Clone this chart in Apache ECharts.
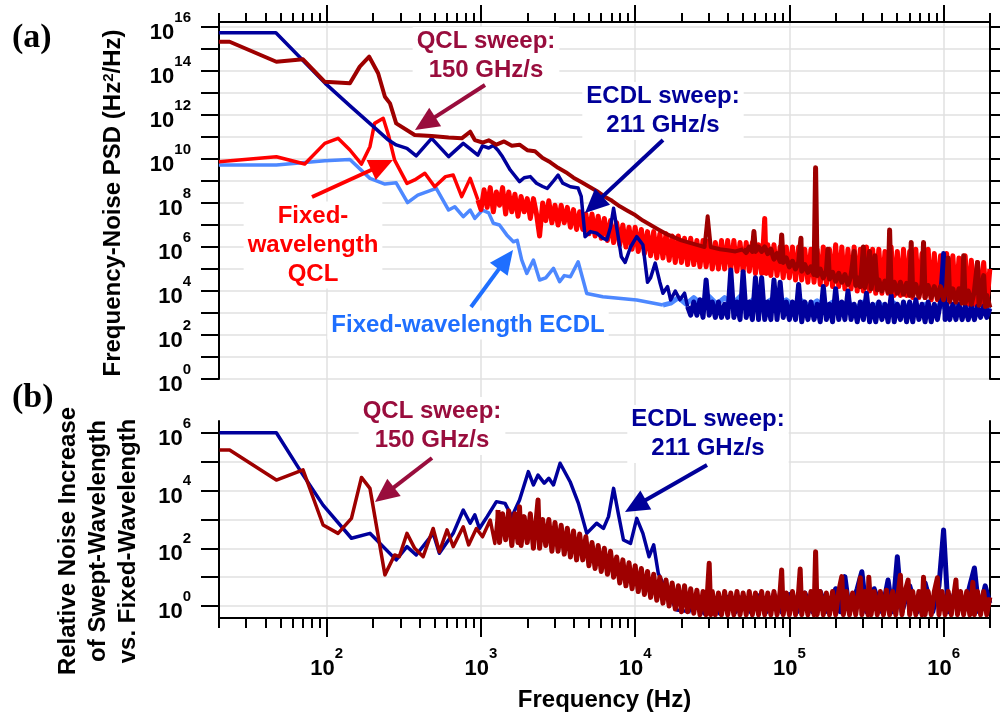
<!DOCTYPE html>
<html>
<head>
<meta charset="utf-8">
<script src="https://cdn.jsdelivr.net/npm/echarts@6/dist/echarts.min.js"></script>
<style>html,body{margin:0;padding:0;background:#fff}#main{width:1000px;height:721px}</style>
</head>
<body>
<div id="main"></div>
<script>
var myChart = echarts.init(document.getElementById('main'));

var SANS = '"Liberation Sans", Arial, Helvetica, sans-serif';
var SERIF = '"Liberation Serif", "Times New Roman", serif';

// points, stored as [log10 frequency (Hz), log10 value]
// each trace is split in a low-frequency part and a noisy high-frequency part

// (a) frequency-noise PSD, Hz^2/Hz
var ecdlSweepPsd = [
  [1.30,15.74],[1.67,15.74],[1.99,13.44],[2.16,12.36],[2.29,11.55],[2.40,10.86],[2.45,10.64],[2.52,10.48],
  [2.58,10.14],[2.68,10.94],[2.79,10.11],[2.885,10.71],[2.98,10.18],[3.01,10.6],[3.05,10.5],[3.08,10.62],
  [3.11,10.4],[3.14,10.1],[3.19,9.5],[3.25,8.97],[3.28,9.15],[3.32,9.2],[3.36,8.9],[3.40,8.75],[3.43,8.66],
  [3.47,9.0],[3.50,9.27],[3.53,8.9],[3.58,8.74],[3.63,8.68],[3.65,8.3],[3.675,6.47],[3.71,6.7],[3.75,6.63],
  [3.79,6.4],[3.816,6.32],[3.84,6.9],[3.86,7.76],[3.89,6.47],[3.91,5.56],[3.935,5.3],[3.97,6.0],[4.01,6.47],
  [4.05,6.1],[4.08,4.4],[4.10,4.6],[4.13,5.27],[4.16,4.4],[4.18,3.9],[4.21,4.2],[4.23,3.59],[4.26,4.0],
  [4.29,3.6],[4.32,3.9],[4.34,3.29]
];
var ecdlSweepPsdHf = [
  [4.34,3.29],[4.36,2.9],[4.38,3.5],[4.40,2.9],[4.42,3.6],[4.44,2.8],[4.46,4.5],[4.48,2.9],[4.50,3.5],[4.52,2.8],[4.54,3.5],
  [4.56,2.8],[4.58,3.4],[4.60,2.8],[4.62,4.95],[4.64,2.8],[4.66,3.5],[4.68,2.7],[4.70,4.88],[4.72,2.8],[4.74,3.5],
  [4.76,2.7],[4.78,4.6],[4.80,2.7],[4.82,4.6],[4.84,2.7],[4.86,3.5],[4.88,2.7],[4.90,4.5],[4.92,2.7],[4.94,4.4],
  [4.96,2.8],[4.98,3.5],[5.00,2.7],[5.02,3.5],[5.04,2.7],[5.06,4.3],[5.08,2.6],[5.10,3.5],[5.12,2.7],[5.14,3.5],
  [5.16,2.7],[5.18,3.4],[5.20,2.6],[5.22,4.2],[5.24,2.7],[5.26,3.4],[5.28,2.6],[5.30,4.1],[5.32,2.7],[5.34,3.5],
  [5.36,2.7],[5.38,4.0],[5.40,2.7],[5.42,3.4],[5.44,2.6],[5.46,3.5],[5.48,2.7],[5.50,3.9],[5.52,2.6],[5.54,3.4],
  [5.56,2.6],[5.58,3.5],[5.60,2.7],[5.62,3.4],[5.64,2.6],[5.66,3.8],[5.68,2.6],[5.70,3.4],[5.72,2.7],[5.74,3.5],
  [5.76,2.6],[5.78,3.5],[5.80,2.6],[5.82,3.6],[5.84,2.7],[5.86,3.4],[5.88,2.6],[5.90,3.5],[5.92,2.6],[5.94,3.4],
  [5.96,2.7],[5.98,3.5],[6.00,5.7],[6.01,2.7],[6.02,3.4],[6.04,2.7],[6.06,3.4],[6.08,2.7],[6.10,3.4],[6.12,2.7],
  [6.14,3.3],[6.16,2.7],[6.18,3.3],[6.20,2.7],[6.22,3.3],[6.24,2.8],[6.26,3.3],[6.28,2.8],[6.30,3.2]
];
var qclSweepPsd = [
  [1.30,15.33],[1.37,15.33],[1.673,14.42],[1.846,14.53],[1.987,13.51],[2.15,13.44],[2.214,14.2],
  [2.275,14.65],[2.333,13.9],[2.377,12.83],[2.41,12.53],[2.45,11.62],[2.57,11.09],[2.68,11.05],
  [2.79,10.98],[2.875,10.94],[2.93,11.24],[2.96,10.86],[3.01,10.75],[3.05,10.85],[3.10,10.65],[3.15,10.8],
  [3.20,10.6],[3.25,10.65],[3.30,10.4],[3.35,10.35],[3.40,10.05],[3.45,9.85],[3.50,9.6],[3.55,9.4],
  [3.60,9.15],[3.65,8.95],[3.70,8.75],[3.75,8.55],[3.80,8.3],[3.85,8.1],[3.90,7.85],[3.95,7.65],[4.00,7.45],
  [4.05,7.2],[4.10,7.0],[4.15,6.8],[4.20,6.6],[4.25,6.45],[4.30,6.3],[4.35,6.2],[4.40,6.1],[4.45,6.0],
  [4.47,7.4],[4.49,6.0],[4.55,5.9],[4.60,5.85],[4.65,5.8],[4.70,5.9]
];
var qclSweepPsdHf = [
  [4.70,5.9],[4.72,5.75],[4.74,6.0],[4.76,5.8],[4.77,6.7],[4.78,5.8],[4.80,6.0],[4.82,5.8],[4.84,6.0],[4.86,5.7],[4.88,5.9],
  [4.90,5.45],[4.92,5.7],[4.94,5.35],[4.95,6.55],[4.96,5.3],[4.98,5.5],[5.00,5.1],[5.02,5.35],[5.04,5.0],[5.06,5.3],
  [5.075,6.4],[5.08,4.9],[5.10,5.2],[5.12,4.85],[5.14,5.1],[5.16,4.75],[5.17,9.6],[5.18,4.7],[5.20,5.0],[5.22,4.6],
  [5.24,4.9],[5.25,5.9],[5.26,4.55],[5.28,4.85],[5.30,4.45],[5.32,4.8],[5.34,4.4],[5.36,4.75],[5.38,4.3],[5.40,4.7],
  [5.42,5.8],[5.43,4.25],[5.44,4.6],[5.46,4.2],[5.48,6.0],[5.49,4.15],[5.50,4.55],[5.52,5.8],[5.53,4.1],[5.54,4.5],
  [5.555,5.6],[5.57,4.05],[5.58,4.5],[5.60,4.0],[5.62,4.45],[5.64,3.95],[5.65,6.77],[5.66,3.95],[5.68,4.4],[5.70,3.9],
  [5.72,4.4],[5.74,3.85],[5.76,4.35],[5.78,3.8],[5.79,6.2],[5.80,3.8],[5.82,4.3],[5.84,3.75],[5.86,4.3],[5.87,6.2],
  [5.88,3.7],[5.90,4.25],[5.92,3.7],[5.94,4.2],[5.96,3.65],[5.98,4.2],[6.00,3.6],[6.02,4.2],[6.03,5.5],[6.04,3.55],
  [6.06,4.1],[6.08,3.5],[6.10,4.1],[6.12,3.45],[6.13,5.6],[6.14,3.45],[6.16,4.0],[6.18,3.4],[6.20,4.0],[6.22,5.3],
  [6.23,3.35],[6.24,3.9],[6.26,4.7],[6.27,3.3],[6.28,3.8],[6.30,3.25]
];
var qclFixedPsd = [
  [1.30,9.88],[1.673,10.1],[1.857,9.77],[1.987,10.71],[2.073,10.94],[2.15,10.41],[2.225,9.77],[2.28,10.56],
  [2.31,11.62],[2.366,11.85],[2.40,11.09],[2.44,9.95],[2.52,8.89],[2.57,9.05],[2.636,9.35],[2.70,8.74],
  [2.77,9.2],[2.82,9.27],[2.875,8.29],[2.93,9.12],[2.98,8.14]
];
var qclFixedPsdHf = [
  [2.98,8.14],[3.00,7.7],[3.02,8.6],[3.04,7.8],[3.06,8.7],[3.08,7.6],[3.10,8.5],[3.12,7.9],[3.14,8.7],[3.16,7.5],[3.18,8.5],
  [3.20,7.6],[3.22,8.4],[3.24,7.4],[3.26,8.3],[3.28,7.6],[3.30,8.2],[3.32,7.3],[3.34,8.2],[3.36,7.5],[3.38,6.5],
  [3.40,8.0],[3.42,7.2],[3.44,8.1],[3.46,7.1],[3.48,7.9],[3.50,7.0],[3.52,7.9],[3.54,7.1],[3.56,7.8],[3.58,6.9],
  [3.60,7.7],[3.62,6.8],[3.64,7.6],[3.66,6.8],[3.68,7.5],[3.70,6.6],[3.72,7.5],[3.74,6.5],[3.76,7.4],[3.78,6.4],
  [3.80,7.3],[3.82,6.3],[3.84,7.2],[3.86,6.2],[3.88,7.1],[3.90,6.1],[3.92,7.0],[3.94,6.0],[3.96,6.9],[3.98,5.9],
  [4.00,6.9],[4.02,5.8],[4.04,6.8],[4.06,5.7],[4.08,6.7],[4.10,5.6],[4.12,6.7],[4.14,5.5],[4.16,6.6],[4.18,5.5],
  [4.20,6.6],[4.22,5.4],[4.24,6.5],[4.26,5.3],[4.28,6.5],[4.30,5.3],[4.32,6.4],[4.34,5.2],[4.36,6.4],[4.38,5.2],
  [4.40,6.3],[4.42,5.1],[4.44,6.3],[4.46,5.1],[4.48,6.3],[4.50,5.0],[4.52,6.2],[4.54,5.0],[4.56,6.3],[4.58,5.0],
  [4.60,6.3],[4.62,5.0],[4.64,6.3],[4.66,4.9],[4.68,6.2],[4.70,4.9],[4.72,6.2],[4.74,4.9],[4.76,6.2],[4.78,4.8],
  [4.80,6.1],[4.82,4.8],[4.84,7.3],[4.85,4.8],[4.86,6.1],[4.88,4.7],[4.90,6.1],[4.92,4.7],[4.94,6.0],[4.96,4.6],
  [4.98,6.0],[5.00,4.6],[5.02,6.0],[5.04,4.5],[5.06,6.0],[5.08,4.5],[5.10,5.9],[5.12,4.4],[5.14,5.9],[5.16,4.4],
  [5.18,5.9],[5.20,4.3],[5.22,6.0],[5.24,4.3],[5.26,5.9],[5.28,4.2],[5.30,6.1],[5.32,4.2],[5.34,6.0],[5.36,4.1],
  [5.38,5.9],[5.40,4.1],[5.42,6.0],[5.44,4.0],[5.46,5.9],[5.48,4.0],[5.50,6.0],[5.52,4.0],[5.54,5.9],[5.56,3.9],
  [5.58,5.9],[5.60,3.9],[5.62,5.8],[5.64,3.9],[5.66,6.0],[5.68,3.8],[5.70,5.8],[5.72,3.8],[5.74,5.9],[5.76,3.8],
  [5.78,5.8],[5.80,3.7],[5.82,5.9],[5.84,3.7],[5.86,5.7],[5.88,3.7],[5.90,5.9],[5.92,3.6],[5.94,5.7],[5.96,3.6],
  [5.98,5.6],[6.00,3.6],[6.02,5.7],[6.04,3.5],[6.06,5.6],[6.08,3.5],[6.10,5.5],[6.12,3.5],[6.14,5.6],[6.16,3.4],
  [6.18,5.4],[6.20,3.4],[6.22,5.3],[6.24,3.4],[6.26,5.3],[6.28,3.3],[6.30,5.0]
];
var ecdlFixedPsd = [
  [1.30,9.73],[1.673,9.73],[1.987,9.92],[2.15,9.98],[2.28,9.12],[2.377,8.86],[2.45,8.92],[2.524,8.02],
  [2.59,8.36],[2.71,8.67],[2.79,7.68],[2.83,7.83],[2.885,7.38],[2.93,7.68],[2.96,7.3],[3.01,7.68],
  [3.05,7.55],[3.08,7.08],[3.12,7.0],[3.167,6.55],[3.21,6.24],[3.235,6.3],[3.264,5.41],[3.297,4.8],
  [3.34,5.41],[3.38,4.5],[3.42,4.6],[3.47,5.03],[3.51,4.42],[3.54,4.7],[3.58,4.65],[3.63,5.33],[3.686,3.89],
  [3.79,3.74],[4.01,3.59],[4.18,3.36]
];
var ecdlFixedPsdHf = [
  [4.18,3.36],[4.23,3.45],[4.28,3.7],[4.33,3.4],[4.38,3.7],[4.43,3.4],[4.48,3.75],[4.53,3.4],[4.58,3.7],
  [4.63,3.4],[4.68,3.75],[4.73,3.4],[4.78,3.7],[4.83,3.35],[4.88,3.6],[4.93,3.35],[4.98,3.6],[5.03,3.3],
  [5.08,3.55],[5.13,3.3],[5.18,3.55],[5.23,3.25],[5.28,3.5],[5.33,3.25],[5.38,3.5],[5.43,3.2],[5.48,3.5],
  [5.53,3.2],[5.58,3.45],[5.63,3.2],[5.68,3.45],[5.73,3.15],[5.78,3.4],[5.83,3.15],[5.88,3.4],[5.93,3.1],
  [5.98,3.4],[6.03,3.1],[6.08,3.35],[6.13,3.1],[6.18,3.3],[6.23,3.05],[6.28,3.3],[6.30,3.1]
];

// (b) ratio of swept to fixed-wavelength noise
var ecdlRatio = [
  [1.305,6.01],[1.673,6.01],[1.825,4.72],[1.976,3.50],[2.16,2.35],[2.28,2.52],[2.45,1.60],[2.52,2.06],
  [2.58,1.77],[2.69,2.52],[2.73,1.83],[2.82,2.52],[2.885,3.33],[2.93,2.87],[2.96,3.16],[2.99,2.69],
  [3.04,3.10],[3.10,3.62],[3.156,3.56],[3.2,3.10],[3.25,3.68],[3.307,4.66],[3.34,4.20],[3.37,4.54],
  [3.41,4.26],[3.44,4.43],[3.47,4.20],[3.513,4.95],[3.578,4.31],[3.632,3.56],[3.686,2.52],[3.75,2.87],
  [3.794,2.69],[3.827,3.10],[3.86,4.08],[3.89,3.22],[3.924,2.29],[3.97,2.17],[4.01,3.04],[4.05,2.52],
  [4.09,1.71],[4.12,2.12],[4.15,1.13],[4.21,0.44],[4.27,-0.14],[4.36,-0.2]
];
var ecdlRatioHf = [
  [4.36,-0.2],[4.40,0.2],[4.45,-0.25],[4.50,0.3],[4.55,-0.25],[4.60,0.3],[4.65,-0.2],[4.70,0.35],[4.75,-0.2],
  [4.80,0.35],[4.85,-0.2],[4.90,0.4],[4.95,-0.2],[5.00,0.4],[5.05,-0.2],[5.10,0.45],[5.15,-0.2],[5.20,0.5],
  [5.25,-0.2],[5.30,0.6],[5.33,-0.2],[5.36,1.02],[5.39,-0.2],[5.44,0.6],[5.47,1.19],[5.50,-0.2],[5.55,0.6],
  [5.60,-0.2],[5.64,0.9],[5.67,-0.2],[5.70,1.71],[5.73,-0.2],[5.78,0.7],[5.83,-0.2],[5.88,0.8],[5.93,-0.2],
  [5.97,0.7],[6.00,2.64],[6.03,-0.2],[6.08,0.6],[6.13,-0.2],[6.17,0.7],[6.20,1.32],[6.23,-0.2],[6.27,0.7],
  [6.30,0.1]
];
var qclRatio = [
  [1.305,5.41],[1.37,5.41],[1.673,4.37],[1.846,4.72],[1.976,2.81],[2.073,2.52],[2.16,3.04],[2.225,4.46],
  [2.28,4.08],[2.377,1.08],[2.44,1.77],[2.47,1.71],[2.52,2.52],[2.57,2.00],[2.625,1.71],[2.69,2.69],
  [2.73,1.88],[2.78,2.64],[2.82,2.06],[2.885,2.75],[2.92,2.12],[2.97,2.69],[3.01,2.40],[3.06,2.98],
  [3.09,2.17],[3.11,3.33]
];
var qclRatioHf = [
  [3.11,3.33],[3.12,2.2],[3.14,3.2],[3.16,2.3],[3.18,3.3],[3.20,2.1],[3.22,3.2],[3.24,2.2],[3.25,3.44],[3.26,2.1],[3.28,3.1],
  [3.30,2.2],[3.32,3.2],[3.34,2.0],[3.36,3.1],[3.37,3.68],[3.38,2.0],[3.40,3.0],[3.42,2.1],[3.44,3.0],[3.46,1.9],
  [3.48,2.9],[3.50,1.9],[3.52,2.8],[3.54,1.8],[3.56,2.7],[3.58,1.7],[3.60,2.6],[3.62,1.6],[3.64,2.5],[3.66,1.6],
  [3.68,2.4],[3.70,1.4],[3.72,2.2],[3.74,1.3],[3.76,2.1],[3.78,1.2],[3.80,2.0],[3.82,1.1],[3.84,1.9],[3.86,1.0],
  [3.88,1.7],[3.90,0.8],[3.92,1.6],[3.94,0.7],[3.96,1.5],[3.98,0.6],[4.00,1.4],[4.02,0.5],[4.04,1.3],[4.06,0.4],
  [4.08,1.2],[4.10,0.3],[4.12,1.1],[4.14,0.2],[4.16,1.0],[4.18,0.1],[4.20,0.9],[4.22,0.0],[4.24,0.8],[4.26,-0.1],
  [4.28,0.7],[4.30,-0.2],[4.32,0.7],[4.34,-0.2],[4.36,0.6],[4.38,-0.25],[4.40,0.55],[4.42,-0.3],[4.44,0.5],[4.46,-0.3],
  [4.48,1.48],[4.49,-0.3],[4.50,0.5],[4.52,-0.3],[4.54,0.45],[4.56,-0.3],[4.58,0.5],[4.60,-0.3],[4.62,0.45],[4.64,-0.3],
  [4.66,0.5],[4.68,-0.3],[4.70,0.45],[4.72,-0.3],[4.74,0.5],[4.76,-0.3],[4.78,0.45],[4.80,-0.3],[4.82,0.5],[4.84,-0.3],
  [4.86,0.45],[4.88,-0.3],[4.90,0.5],[4.92,-0.3],[4.94,0.5],[4.95,1.25],[4.96,-0.3],[4.98,0.45],[5.00,-0.3],[5.02,0.5],
  [5.04,-0.3],[5.06,0.5],[5.07,1.28],[5.08,-0.3],[5.10,0.45],[5.12,-0.3],[5.14,0.5],[5.16,-0.3],[5.17,1.88],[5.18,-0.3],
  [5.20,0.5],[5.22,-0.3],[5.24,0.45],[5.26,-0.3],[5.28,0.5],[5.30,-0.3],[5.32,0.5],[5.34,1.02],[5.35,-0.3],[5.37,0.5],
  [5.39,-0.3],[5.41,0.45],[5.43,-0.3],[5.45,0.5],[5.46,0.98],[5.47,-0.3],[5.49,0.5],[5.51,-0.3],[5.515,1.0],[5.53,-0.3],
  [5.55,0.5],[5.57,-0.3],[5.59,0.5],[5.61,-0.3],[5.63,0.55],[5.65,-0.3],[5.67,0.5],[5.69,-0.3],[5.72,1.07],[5.73,-0.3],
  [5.75,0.5],[5.77,0.9],[5.78,-0.3],[5.80,0.5],[5.82,-0.3],[5.84,0.5],[5.86,-0.3],[5.87,1.0],[5.88,-0.3],[5.90,0.5],
  [5.92,-0.3],[5.94,0.5],[5.96,0.98],[5.97,-0.3],[5.99,0.5],[6.01,-0.3],[6.03,0.5],[6.05,-0.3],[6.07,0.5],[6.08,0.9],
  [6.09,-0.3],[6.11,0.5],[6.13,-0.3],[6.15,0.5],[6.17,-0.3],[6.19,0.82],[6.20,-0.3],[6.22,0.5],[6.24,-0.3],[6.26,0.5],
  [6.28,-0.3],[6.30,0.3]
];

// tick positions
var freqDecades = [1e2, 1e3, 1e4, 1e5, 1e6];
var freqMinor = [];
for (var d = 10; d <= 1e6; d *= 10) {
  for (var k = 2; k <= 9; k++) {
    if (k * d >= 20 && k * d <= 2e6) freqMinor.push(k * d);
  }
}
var psdTicks = [], psdLabels = [];
for (var e = 0; e <= 16; e++) {
  psdTicks.push(Math.pow(10, e));
  if (e % 2 === 0) psdLabels.push(Math.pow(10, e));
}
var ratioTicks = [1, 1e1, 1e2, 1e3, 1e4, 1e5, 1e6];
var ratioLabels = [1, 1e2, 1e4, 1e6];

var C_ECDL_SWEEP = '#00009c', C_QCL_SWEEP = '#9e0000', C_QCL_FIXED = '#ff0000', C_ECDL_FIXED = '#4d88ff';
var C_NOTE_QCL = '#990d3d', C_NOTE_ECDL = '#000099', C_NOTE_ECDL_FIXED = '#1f6fff';
var GRID_GRAY = '#e0e0e0';

function pts(arr) {
  return arr.map(function (p) { return [Math.pow(10, p[0]), Math.pow(10, p[1])]; });
}
function powLabel(v) {
  return '{b|10}{s|' + Math.round(Math.log10(v)) + '}';
}
var powRich = {
  b: {fontFamily: SANS, fontWeight: 'bold', fontSize: 22, color: '#000', lineHeight: 34, verticalAlign: 'bottom'},
  s: {fontFamily: SANS, fontWeight: 'bold', fontSize: 15, color: '#000', lineHeight: 15, verticalAlign: 'top'}
};

function freqAxis(grid, pos, ticks, len, withLine) {
  return {
    gridIndex: grid, type: 'log', min: 20, max: 2e6, position: pos,
    axisLine: {show: withLine, onZero: false, lineStyle: {color: '#000', width: 2}},
    axisTick: {show: true, customValues: ticks, length: len, lineStyle: {color: '#000', width: 2}},
    axisLabel: {show: false},
    splitLine: {show: false}
  };
}
function valAxis(grid, pos, min, max, ticks, len) {
  return {
    gridIndex: grid, type: 'log', min: min, max: max, position: pos,
    axisLine: {show: true, lineStyle: {color: '#000', width: 2}},
    axisTick: {show: true, customValues: ticks, length: len, lineStyle: {color: '#000', width: 2}},
    axisLabel: {show: false},
    splitLine: {show: false}
  };
}

var xBottom = freqAxis(1, 'bottom', freqDecades, 19, true);
xBottom.axisLabel = {show: true, customValues: freqDecades, formatter: powLabel, rich: powRich, margin: 28};
xBottom.name = 'Frequency (Hz)';
xBottom.nameLocation = 'middle';
xBottom.nameGap = 70;
xBottom.nameTextStyle = {fontFamily: SANS, fontWeight: 'bold', fontSize: 24, color: '#000'};

var xBack = freqAxis(2, 'bottom', freqDecades, 0, false);
xBack.axisTick.show = false;
xBack.splitLine = {show: true, lineStyle: {color: GRID_GRAY, width: 1.5}};

var yTop = valAxis(0, 'left', 1, 1.69e16, psdTicks, 18);
yTop.axisLabel = {show: true, customValues: psdLabels, formatter: powLabel, rich: powRich, margin: 28};
yTop.splitLine = {show: true, lineStyle: {color: GRID_GRAY, width: 1.5}};

var yBottom = valAxis(1, 'left', 0.384, 2.61e6, ratioTicks, 18);
yBottom.axisLabel = {show: true, customValues: ratioLabels, formatter: powLabel, rich: powRich, margin: 28};
yBottom.splitLine = {show: true, lineStyle: {color: GRID_GRAY, width: 1.5}};

function lineSeries(name, data, color, xi, yi, width) {
  return {
    name: name, type: 'line', data: pts(data), xAxisIndex: xi, yAxisIndex: yi,
    showSymbol: false, symbol: 'none', silent: true, animation: false,
    lineStyle: {color: color, width: width, join: 'round'}, itemStyle: {color: color}
  };
}

function note(text, x, y, color) {
  return {
    type: 'text', x: x, y: y, z: 1,
    style: {
      text: text, fill: color, font: 'bold 24px ' + SANS,
      align: 'center', verticalAlign: 'middle', textAlign: 'center', textVerticalAlign: 'middle',
      lineHeight: 29, backgroundColor: '#fff', padding: [0, 4]
    }
  };
}
function arrow(x1, y1, x2, y2, color) {
  var dx = x2 - x1, dy = y2 - y1, len = Math.sqrt(dx * dx + dy * dy);
  var ux = dx / len, uy = dy / len, hl = 24, hw = 11;
  var bx = x2 - ux * hl, by = y2 - uy * hl;
  return [
    {type: 'line', z: 5, shape: {x1: x1, y1: y1, x2: bx + ux * 3, y2: by + uy * 3}, style: {stroke: color, lineWidth: 4}},
    {type: 'polygon', z: 5, shape: {points: [[x2, y2], [bx - uy * hw, by + ux * hw], [bx + uy * hw, by - ux * hw]]}, style: {fill: color}}
  ];
}

var graphics = [
  {type: 'text', x: 12, y: 38, style: {text: '(a)', font: 'bold 34px ' + SERIF, fill: '#000', verticalAlign: 'middle', textVerticalAlign: 'middle'}},
  {type: 'text', x: 12, y: 398, style: {text: '(b)', font: 'bold 34px ' + SERIF, fill: '#000', verticalAlign: 'middle', textVerticalAlign: 'middle'}},
  {
    type: 'text', x: 113, y: 203, rotation: Math.PI / 2,
    style: {
      text: 'Frequency-Noise PSD (Hz{s|2}/Hz)', fill: '#000', font: 'bold 24px ' + SANS,
      align: 'center', verticalAlign: 'middle', textAlign: 'center', textVerticalAlign: 'middle',
      rich: {s: {fontFamily: SANS, fontWeight: 'bold', fontSize: 15, fill: '#000', color: '#000', verticalAlign: 'top', lineHeight: 15}}
    }
  },
  {
    type: 'text', x: 98, y: 541, rotation: Math.PI / 2,
    style: {
      text: 'Relative Noise Increase\nof Swept-Wavelength\nvs. Fixed-Wavelength', fill: '#000', font: 'bold 24px ' + SANS,
      align: 'center', verticalAlign: 'middle', textAlign: 'center', textVerticalAlign: 'middle', lineHeight: 30
    }
  },
  note('QCL sweep:\n150 GHz/s', 486, 56, C_NOTE_QCL),
  note('ECDL sweep:\n211 GHz/s', 663, 111, C_NOTE_ECDL),
  note('Fixed-\nwavelength\nQCL', 313, 245, C_QCL_FIXED),
  note('Fixed-wavelength ECDL', 468, 325, C_NOTE_ECDL_FIXED),
  note('QCL sweep:\n150 GHz/s', 432, 426, C_NOTE_QCL),
  note('ECDL sweep:\n211 GHz/s', 708, 434, C_NOTE_ECDL)
].concat(
  arrow(485, 85, 415, 130, C_NOTE_QCL),
  arrow(663, 140, 585, 213, C_NOTE_ECDL),
  arrow(312, 197, 393, 160, C_QCL_FIXED),
  arrow(471, 307, 513, 250, C_NOTE_ECDL_FIXED),
  arrow(432, 458, 375, 502, C_NOTE_QCL),
  arrow(707, 465, 625, 512, C_NOTE_ECDL)
);

var LW = 3.5, LW_NOISE = 5;

var option = {
  animation: false,
  backgroundColor: '#fff',
  grid: [
    {left: 219, right: 10, top: 22, bottom: 342},
    {left: 219, right: 10, top: 421, bottom: 103},
    {left: 219, right: 10, top: 22, bottom: 103}
  ],
  xAxis: [
    freqAxis(0, 'top', freqDecades, 17, true),
    freqAxis(0, 'top', freqMinor, 9, false),
    xBottom,
    freqAxis(1, 'bottom', freqMinor, 10, false),
    xBack
  ],
  yAxis: [
    yTop,
    valAxis(0, 'right', 1, 1.69e16, psdTicks, 10),
    yBottom,
    valAxis(1, 'right', 0.384, 2.61e6, ratioTicks, 10),
    {gridIndex: 2, type: 'value', min: 0, max: 1, show: false}
  ],
  series: [
    lineSeries('Fixed-wavelength ECDL', ecdlFixedPsd, C_ECDL_FIXED, 0, 0, LW),
    lineSeries('Fixed-wavelength ECDL', ecdlFixedPsdHf, C_ECDL_FIXED, 0, 0, LW_NOISE),
    lineSeries('Fixed-wavelength QCL', qclFixedPsd, C_QCL_FIXED, 0, 0, LW),
    lineSeries('Fixed-wavelength QCL', qclFixedPsdHf, C_QCL_FIXED, 0, 0, LW_NOISE),
    lineSeries('ECDL sweep', ecdlSweepPsd, C_ECDL_SWEEP, 0, 0, LW),
    lineSeries('ECDL sweep', ecdlSweepPsdHf, C_ECDL_SWEEP, 0, 0, LW_NOISE),
    lineSeries('QCL sweep', qclSweepPsd, C_QCL_SWEEP, 0, 0, LW + 0.5),
    lineSeries('QCL sweep', qclSweepPsdHf, C_QCL_SWEEP, 0, 0, LW_NOISE),
    lineSeries('ECDL sweep / fixed', ecdlRatio, C_ECDL_SWEEP, 2, 2, LW),
    lineSeries('ECDL sweep / fixed', ecdlRatioHf, C_ECDL_SWEEP, 2, 2, LW_NOISE),
    lineSeries('QCL sweep / fixed', qclRatio, C_QCL_SWEEP, 2, 2, LW),
    lineSeries('QCL sweep / fixed', qclRatioHf, C_QCL_SWEEP, 2, 2, LW_NOISE)
  ],
  graphic: graphics
};

myChart.setOption(option);
</script>
</body>
</html>
